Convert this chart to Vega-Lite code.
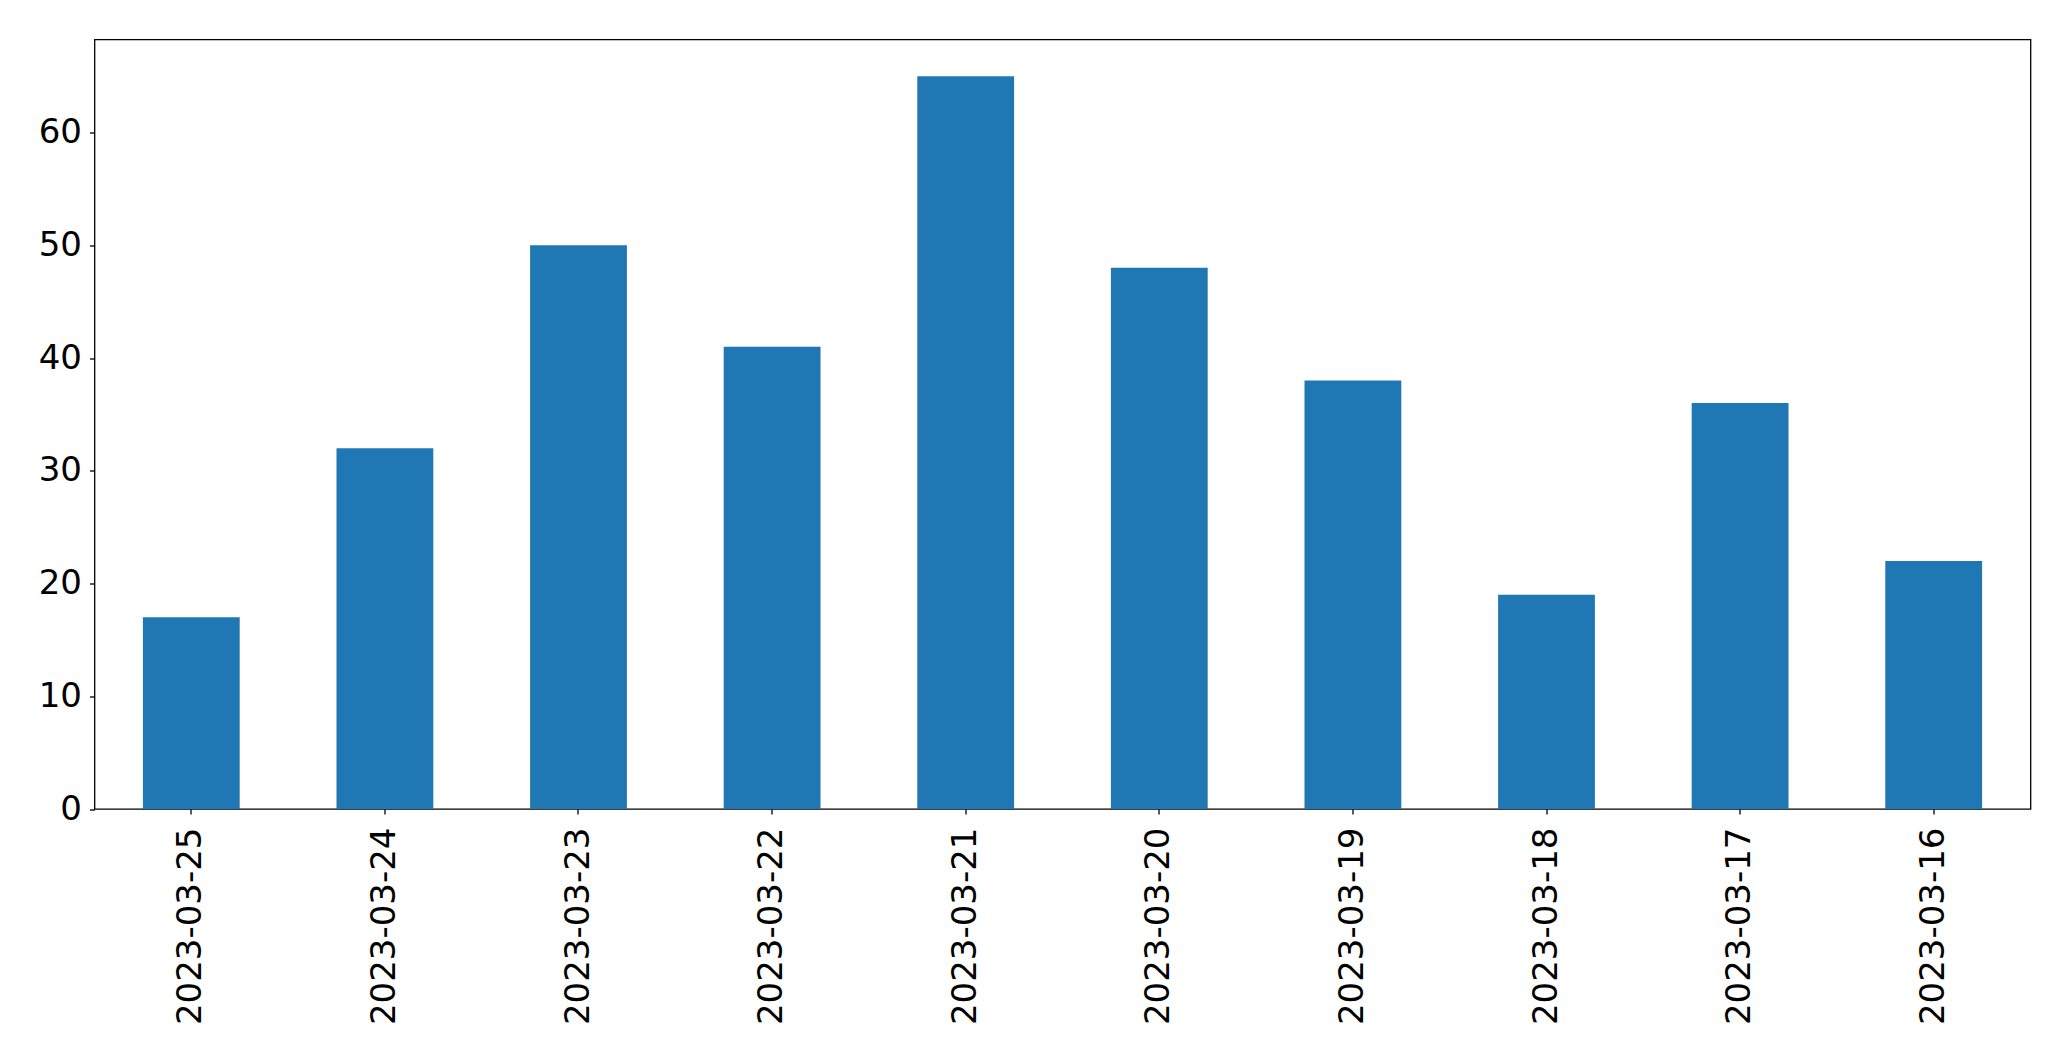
{
  "$schema": "https://vega.github.io/schema/vega-lite/v6.json",
  "autosize": "none",
  "padding": {"left": 94.5, "top": 39.5, "right": 40, "bottom": 252},
  "width": 1936,
  "height": 769.5,
  "background": "white",
  "config": {
    "view": {"stroke": "#000000", "strokeWidth": 1.3},
    "font": "DejaVu Sans",
    "axis": {
      "grid": false,
      "domain": false,
      "tickColor": "#000000",
      "tickWidth": 1.3,
      "tickSize": 5,
      "labelFont": "DejaVu Sans",
      "labelFontSize": 34,
      "labelColor": "#000000",
      "labelLimit": 0,
      "title": null
    }
  },
  "data": {
    "values": [
      {"date": "2023-03-25", "count": 17},
      {"date": "2023-03-24", "count": 32},
      {"date": "2023-03-23", "count": 50},
      {"date": "2023-03-22", "count": 41},
      {"date": "2023-03-21", "count": 65},
      {"date": "2023-03-20", "count": 48},
      {"date": "2023-03-19", "count": 38},
      {"date": "2023-03-18", "count": 19},
      {"date": "2023-03-17", "count": 36},
      {"date": "2023-03-16", "count": 22}
    ]
  },
  "mark": {"type": "bar", "color": "#1f77b4"},
  "encoding": {
    "x": {
      "field": "date",
      "type": "nominal",
      "sort": null,
      "scale": {"paddingInner": 0.5, "paddingOuter": 0.25},
      "axis": {"labelAngle": 270, "labelPadding": 13, "labelAlign": "right", "labelBaseline": "middle", "labelLimit": 0}
    },
    "y": {
      "field": "count",
      "type": "quantitative",
      "scale": {"domain": [0, 68.25], "nice": false, "zero": true},
      "axis": {"values": [0, 10, 20, 30, 40, 50, 60], "labelPadding": 8}
    }
  }
}
